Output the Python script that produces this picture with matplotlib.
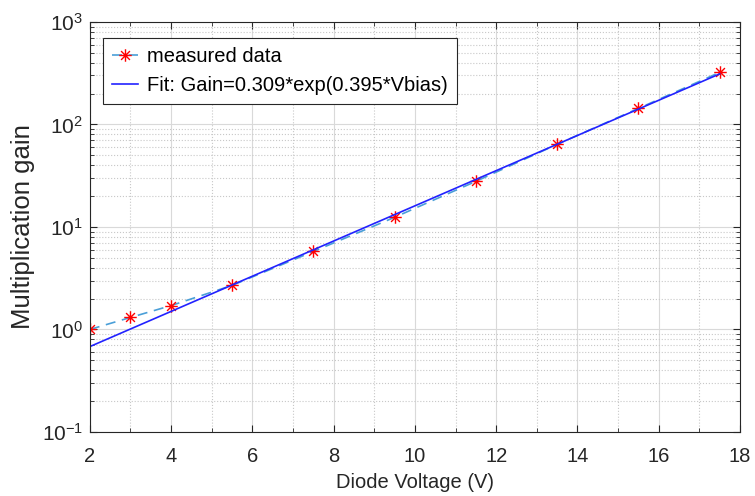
import numpy as np
import matplotlib
matplotlib.use("Agg")
import matplotlib.pyplot as plt
from matplotlib.path import Path
from matplotlib.ticker import LogLocator, NullFormatter, MultipleLocator

plt.rcParams['font.family'] = ['Liberation Sans', 'DejaVu Sans']
plt.rcParams['mathtext.fontset'] = 'custom'
plt.rcParams['mathtext.rm'] = 'Liberation Sans'
plt.rcParams['mathtext.it'] = 'Liberation Sans'
plt.rcParams['mathtext.default'] = 'regular'

voltage = [2, 3, 4, 5.5, 7.5, 9.5, 11.5, 13.5, 15.5, 17.5]
gain = [1.0, 1.31, 1.71, 2.69, 5.76, 12.4, 27.8, 63.8, 143, 321]
fit_a = 0.309
fit_b = 0.395

# MATLAB-like asterisk marker (8 spokes)
d = np.sqrt(0.5)
ast_verts = [(-1, 0), (1, 0), (0, -1), (0, 1), (-d, -d), (d, d), (-d, d), (d, -d)]
ast_codes = [Path.MOVETO, Path.LINETO] * 4
asterisk = Path(ast_verts, ast_codes)

fig = plt.figure(figsize=(7.55, 4.96), dpi=100)
ax = fig.add_axes([0.119, 0.129, 0.861, 0.827])

ax.plot(voltage, gain, linestyle=(0, (6, 4)), color='#4a9fd8', linewidth=1.2,
        marker=asterisk, markersize=9, markeredgewidth=1.0,
        markerfacecolor='red', markeredgecolor='red',
        label='measured data')
xf = np.linspace(voltage[0], voltage[-1], 200)
ax.plot(xf, fit_a * np.exp(fit_b * xf), color='#2222ff', linewidth=1.2,
        label='Fit: Gain=0.309*exp(0.395*Vbias)')

ax.set_yscale('log')
ax.set_xlim(2, 18)
ax.set_ylim(0.1, 1000)
ax.xaxis.set_major_locator(MultipleLocator(2))
ax.xaxis.set_minor_locator(MultipleLocator(1))
ax.yaxis.set_major_locator(LogLocator(base=10, numticks=10))
ax.yaxis.set_minor_locator(LogLocator(base=10, subs=np.arange(2, 10), numticks=20))
ax.yaxis.set_minor_formatter(NullFormatter())

ax.grid(which='major', color='#d9d9d9', linestyle='-', linewidth=0.8)
ax.grid(which='minor', color='#c8c8c8', linestyle=':', linewidth=0.8)
ax.set_axisbelow(True)

ax.tick_params(which='both', direction='in', top=True, right=True, colors='#262626')
ax.tick_params(axis='x', which='both', labelsize=14.5, pad=11)
ax.tick_params(axis='y', which='both', labelsize=15, pad=5)
ax.tick_params(axis='x', which='minor', length=0)
ax.tick_params(which='major', length=5)
ax.tick_params(which='minor', length=3)
for s in ax.spines.values():
    s.set_color('#262626')

ax.set_xlabel('Diode Voltage (V)', fontsize=14.5, color='#262626', labelpad=5)
ax.set_ylabel('Multiplication gain', fontsize=18.5, color='#262626', labelpad=5)

leg = ax.legend(loc='upper left', bbox_to_anchor=(0.02, 0.961), borderaxespad=0,
                fontsize=14.5, fancybox=False, framealpha=1,
                edgecolor='#262626', handlelength=1.3, handletextpad=0.45,
                borderpad=0.45, labelspacing=0.5)
leg.get_frame().set_linewidth(0.8)

fig.savefig('out.png', dpi=100)
